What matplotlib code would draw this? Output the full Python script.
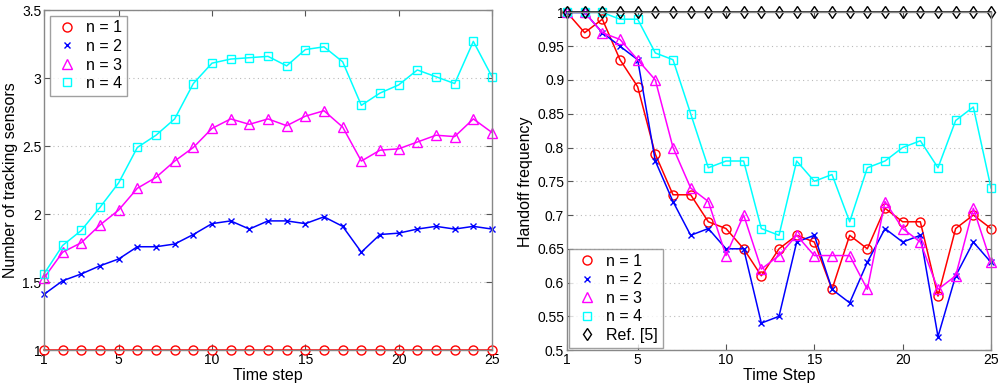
import matplotlib
matplotlib.use("Agg")
import matplotlib.pyplot as plt
import numpy as np

plt.rcParams['font.family'] = ['Liberation Sans', 'DejaVu Sans']

t = list(range(1, 26))

# Left panel: number of tracking sensors
left_n1 = [1.0] * 25
left_n2 = [1.41, 1.51, 1.56, 1.62, 1.67, 1.76, 1.76, 1.78, 1.85, 1.93, 1.95, 1.89, 1.95,
           1.95, 1.93, 1.98, 1.91, 1.72, 1.85, 1.86, 1.89, 1.91, 1.89, 1.91, 1.89]
left_n3 = [1.53, 1.72, 1.79, 1.92, 2.03, 2.19, 2.27, 2.39, 2.49, 2.63, 2.70, 2.66, 2.70,
           2.65, 2.72, 2.76, 2.64, 2.39, 2.47, 2.48, 2.53, 2.58, 2.57, 2.70, 2.60]
left_n4 = [1.56, 1.77, 1.88, 2.05, 2.23, 2.49, 2.58, 2.70, 2.96, 3.11, 3.14, 3.15, 3.16,
           3.09, 3.21, 3.23, 3.12, 2.80, 2.89, 2.95, 3.06, 3.01, 2.96, 3.27, 3.01]

# Right panel: handoff frequency
right_n1 = [1.00, 0.97, 0.99, 0.93, 0.89, 0.79, 0.73, 0.73, 0.69, 0.68, 0.65, 0.61, 0.65,
            0.67, 0.66, 0.59, 0.67, 0.65, 0.71, 0.69, 0.69, 0.58, 0.68, 0.70, 0.68]
right_n2 = [1.00, 1.00, 0.97, 0.95, 0.93, 0.78, 0.72, 0.67, 0.68, 0.65, 0.65, 0.54, 0.55,
            0.66, 0.67, 0.59, 0.57, 0.63, 0.68, 0.66, 0.67, 0.52, 0.61, 0.66, 0.63]
right_n3 = [1.00, 1.00, 0.97, 0.96, 0.93, 0.90, 0.80, 0.74, 0.72, 0.64, 0.70, 0.62, 0.64,
            0.67, 0.64, 0.64, 0.64, 0.59, 0.72, 0.68, 0.66, 0.59, 0.61, 0.71, 0.63]
right_n4 = [1.00, 1.00, 1.00, 0.99, 0.99, 0.94, 0.93, 0.85, 0.77, 0.78, 0.78, 0.68, 0.67,
            0.78, 0.75, 0.76, 0.69, 0.77, 0.78, 0.80, 0.81, 0.77, 0.84, 0.86, 0.74]
right_ref = [1.0] * 25

labels = ['n = 1', 'n = 2', 'n = 3', 'n = 4']
colors = ['#ff0000', '#0000ff', '#ff00ff', '#00ffff']
markers = ['o', 'x', '^', 's']
msizes = [6.5, 4.5, 7.5, 5.3]

fig = plt.figure(figsize=(10, 3.89), dpi=100)
ax1 = fig.add_axes([0.044, 0.1, 0.448, 0.874])
ax2 = fig.add_axes([0.567, 0.1, 0.424, 0.868])

def style(ax):
    for s in ax.spines.values():
        s.set_color('#888888')
        s.set_linewidth(1.0)
    ax.tick_params(direction='in', length=4, color='#555555', labelsize=10,
                   top=True, right=True, pad=2)
    ax.yaxis.grid(True, linestyle=(0, (1, 3)), color='#bbbbbb', linewidth=0.8)
    ax.set_axisbelow(True)

for ys, lab, c, m, ms in zip([left_n1, left_n2, left_n3, left_n4], labels, colors, markers, msizes):
    ax1.plot(t, ys, color=c, marker=m, markersize=ms, markerfacecolor='none',
             markeredgecolor=c, markeredgewidth=1.0, linewidth=1.1, label=lab, clip_on=False)
ax1.set_xlim(1, 25)
ax1.set_ylim(1, 3.5)
ax1.set_xticks([1, 5, 10, 15, 20, 25])
ax1.set_yticks([1, 1.5, 2, 2.5, 3, 3.5])
ax1.set_yticklabels(['1', '1.5', '2', '2.5', '3', '3.5'])
ax1.set_xlabel('Time step', fontsize=11.5, labelpad=1)
ax1.set_ylabel('Number of tracking sensors', fontsize=11.5, labelpad=3)
style(ax1)
leg1 = ax1.legend(loc='upper left', fontsize=11.5, fancybox=False, edgecolor='#888888',
                  borderpad=0.3, labelspacing=0.22, handletextpad=0.4, handlelength=1.6,
                  borderaxespad=0.35)
leg1.get_frame().set_linewidth(1.0)
for h in leg1.legend_handles:
    h.set_linestyle('none')

right_series = [right_n1, right_n2, right_n3, right_n4, right_ref]
rlabels = labels + ['Ref. [5]']
rcolors = colors + ['#000000']
rmarkers = markers + ['d']
rms = msizes + [6.2]
for ys, lab, c, m, ms in zip(right_series, rlabels, rcolors, rmarkers, rms):
    ax2.plot(t, ys, color=c, marker=m, markersize=ms, markerfacecolor='none',
             markeredgecolor=c, markeredgewidth=1.0, linewidth=1.1, label=lab, clip_on=False)
ax2.set_xlim(1, 25)
ax2.set_ylim(0.5, 1.0)
ax2.set_xticks([1, 5, 10, 15, 20, 25])
ax2.set_yticks([0.5, 0.55, 0.6, 0.65, 0.7, 0.75, 0.8, 0.85, 0.9, 0.95, 1.0])
ax2.set_yticklabels(['0.5', '0.55', '0.6', '0.65', '0.7', '0.75', '0.8', '0.85', '0.9', '0.95', '1'])
ax2.set_xlabel('Time Step', fontsize=11.5, labelpad=1)
ax2.set_ylabel('Handoff frequency', fontsize=11.5, labelpad=3)
style(ax2)
leg2 = ax2.legend(loc='lower left', fontsize=11.5, fancybox=False, edgecolor='#888888',
                  borderpad=0.3, labelspacing=0.22, handletextpad=0.4, handlelength=1.6,
                  borderaxespad=0.15)
leg2.get_frame().set_linewidth(1.0)
for h in leg2.legend_handles:
    h.set_linestyle('none')

fig.savefig('out.png', dpi=100)
